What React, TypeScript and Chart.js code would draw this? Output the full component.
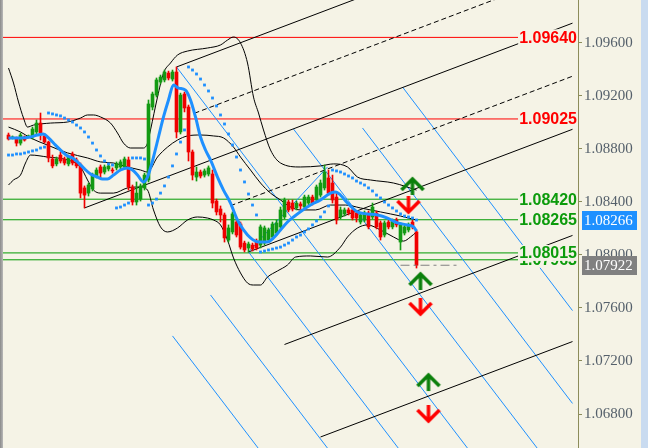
import { useEffect, useRef } from "react";
import { Chart, registerables } from "chart.js";
Chart.register(...registerables);

// ---------- candles (index 0..102) ----------
const opens = [1.08904,1.08882,1.08874,1.08843,1.08889,1.08889,1.08889,1.08927,1.08994,1.08897,1.08851,1.08723,1.08686,1.08753,1.08723,1.08686,1.08761,1.08716,1.08678,1.08505,1.08466,1.08497,1.08595,1.08663,1.08625,1.08648,1.08640,1.08656,1.08663,1.08663,1.08716,1.08512,1.08399,1.08421,1.08505,1.08565,1.09115,1.09205,1.09304,1.09319,1.09371,1.09326,1.09379,1.08927,1.09213,1.09115,1.08776,1.08587,1.08625,1.08602,1.08610,1.08610,1.08406,1.08346,1.08301,1.08112,1.08173,1.08248,1.08233,1.08089,1.08052,1.08074,1.08104,1.08074,1.08089,1.08112,1.08135,1.08165,1.08211,1.08286,1.08399,1.08391,1.08354,1.08384,1.08361,1.08391,1.08436,1.08414,1.08451,1.08505,1.08580,1.08542,1.08436,1.08286,1.08309,1.08339,1.08339,1.08316,1.08248,1.08263,1.08316,1.08286,1.08316,1.08241,1.08150,1.08248,1.08211,1.08263,1.08097,1.08165,1.08188,1.08248,1.08173];
const highs = [1.08919,1.08897,1.08889,1.08919,1.08897,1.08904,1.08964,1.09017,1.09070,1.08912,1.08858,1.08753,1.08738,1.08776,1.08738,1.08753,1.08776,1.08731,1.08693,1.08520,1.08542,1.08617,1.08656,1.08678,1.08678,1.08686,1.08656,1.08701,1.08716,1.08738,1.08738,1.08527,1.08550,1.08535,1.08617,1.09168,1.09228,1.09334,1.09356,1.09394,1.09386,1.09394,1.09417,1.09220,1.09228,1.09130,1.08791,1.08663,1.08640,1.08648,1.08671,1.08640,1.08421,1.08369,1.08316,1.08226,1.08324,1.08263,1.08248,1.08104,1.08097,1.08089,1.08120,1.08226,1.08218,1.08203,1.08248,1.08263,1.08361,1.08429,1.08414,1.08414,1.08406,1.08399,1.08451,1.08451,1.08451,1.08527,1.08565,1.08678,1.08640,1.08602,1.08466,1.08361,1.08354,1.08354,1.08354,1.08331,1.08316,1.08331,1.08331,1.08391,1.08331,1.08256,1.08256,1.08263,1.08271,1.08278,1.08241,1.08226,1.08241,1.08263,1.08188];
const lows = [1.08866,1.08874,1.08821,1.08828,1.08858,1.08882,1.08874,1.08912,1.08866,1.08843,1.08701,1.08656,1.08671,1.08693,1.08678,1.08671,1.08678,1.08656,1.08429,1.08354,1.08444,1.08482,1.08580,1.08580,1.08610,1.08633,1.08617,1.08640,1.08648,1.08656,1.08489,1.08376,1.08376,1.08406,1.08489,1.08550,1.09093,1.09190,1.09289,1.09304,1.09319,1.09311,1.08882,1.08912,1.09078,1.08708,1.08565,1.08557,1.08580,1.08587,1.08595,1.08354,1.08301,1.08248,1.08097,1.08097,1.08158,1.08135,1.08044,1.08022,1.08022,1.08029,1.08037,1.08052,1.08074,1.08097,1.08120,1.08150,1.08196,1.08271,1.08324,1.08331,1.08339,1.08346,1.08346,1.08376,1.08376,1.08399,1.08436,1.08489,1.08451,1.08391,1.08233,1.08271,1.08293,1.08301,1.08263,1.08248,1.08233,1.08248,1.08196,1.08271,1.08196,1.08112,1.08135,1.08196,1.08196,1.08211,1.08037,1.08150,1.08173,1.08196,1.07901];
const closes = [1.08874,1.08889,1.08843,1.08904,1.08866,1.08897,1.08949,1.08994,1.08919,1.08851,1.08731,1.08671,1.08723,1.08708,1.08693,1.08738,1.08693,1.08671,1.08466,1.08451,1.08527,1.08602,1.08640,1.08617,1.08663,1.08671,1.08633,1.08686,1.08701,1.08723,1.08512,1.08399,1.08466,1.08520,1.08602,1.09138,1.09213,1.09319,1.09341,1.09379,1.09334,1.09379,1.08927,1.09205,1.09108,1.08776,1.08602,1.08625,1.08595,1.08633,1.08656,1.08391,1.08324,1.08301,1.08128,1.08203,1.08309,1.08150,1.08059,1.08037,1.08082,1.08044,1.08052,1.08211,1.08203,1.08188,1.08233,1.08241,1.08339,1.08414,1.08339,1.08346,1.08391,1.08369,1.08436,1.08436,1.08391,1.08512,1.08542,1.08625,1.08466,1.08414,1.08263,1.08339,1.08339,1.08316,1.08278,1.08278,1.08301,1.08316,1.08211,1.08361,1.08211,1.08135,1.08241,1.08211,1.08256,1.08226,1.08226,1.08211,1.08226,1.08211,1.07922];

// ---------- parabolic SAR (one dot per candle) ----------
const sar = [1.08753,1.08753,1.08761,1.08761,1.08768,1.08776,1.08784,1.08791,1.08806,1.08813,
  1.09070,1.09063,1.09055,1.09048,1.09032,1.09017,1.09002,1.08979,1.08957,1.08927,1.08889,1.08843,1.08791,1.08746,1.08708,1.08686,1.08678,
  1.08354,1.08361,1.08376,1.08391,
  1.08731,1.08731,1.08731,1.08723,
  1.08376,1.08391,1.08421,1.08466,1.08520,1.08587,1.08671,1.08761,1.08851,1.08942,
  1.09417,1.09394,1.09364,1.09326,1.09281,1.09236,1.09183,1.09123,1.09055,1.08987,1.08912,1.08829,1.08738,1.08640,1.08550,1.08459,1.08376,1.08301,
  1.08022,1.08029,1.08037,1.08044,1.08052,1.08059,1.08074,1.08089,1.08112,1.08135,1.08150,1.08173,1.08196,1.08226,1.08256,1.08286,1.08324,1.08369,
  1.08640,1.08633,1.08625,1.08610,1.08595,1.08580,1.08557,1.08542,1.08527,1.08505,1.08482,1.08451,1.08429,1.08399,1.08376,1.08354,1.08331,1.08309,1.08293,1.08286,1.08278,1.08263];

// ---------- moving average ----------
const maX = [0,3,5.5,7.25,8.75,10,11.75,13.5,14.75,16,17.25,18.75,20.5,22.25,23.5,24.75,26.25,28,29.75,31,32.25,33.75,34.75,35.5,36.25,37.5,38.75,40,41.25,42.5,44.25,45.5,46.75,48,49.25,50.5,52.25,53.75,55.5,57.25,58.75,60.5,62.5,64.75,66.25,68,69.75,71.25,75.5,78,80.5,81.75,83,84.75,87.25,89.75,92.25,94.75,97.25,99.75,101.25,102];
const maY = [1.08882,1.08882,1.08889,1.08904,1.08912,1.08882,1.08828,1.08776,1.08746,1.08731,1.08701,1.08656,1.08610,1.08587,1.08572,1.08572,1.08602,1.08640,1.08656,1.08640,1.08602,1.08550,1.08587,1.08656,1.08738,1.08889,1.09040,1.09168,1.09281,1.09258,1.09243,1.09168,1.09040,1.08889,1.08791,1.08716,1.08587,1.08489,1.08391,1.08263,1.08188,1.08128,1.08097,1.08097,1.08128,1.08188,1.08248,1.08286,1.08376,1.08414,1.08466,1.08474,1.08451,1.08391,1.08324,1.08309,1.08301,1.08278,1.08241,1.08226,1.08211,1.08180];

// ---------- Bollinger bands ----------
const bbUpperX = [0,1.25,2.5,3.75,4.75,6.25,10.5,14.75,18,19.75,21.25,23,25.5,27.25,28.75,30.5,33.75,34.75,35.5,37.25,38.75,40.5,42.25,44.75,49.75,53,54.75,56.25,58,59.75,61.25,62.5,63.75,65.5,68,73,78,81.25,84.75,87.25,90.5,96.25,102];
const bbUpperY = [1.09409,1.09296,1.09153,1.09032,1.08964,1.08979,1.08994,1.09002,1.09032,1.09055,1.09055,1.09040,1.08994,1.08919,1.08843,1.08806,1.08806,1.08843,1.08942,1.09190,1.09371,1.09447,1.09507,1.09537,1.09560,1.09583,1.09620,1.09643,1.09598,1.09447,1.09190,1.09070,1.08942,1.08791,1.08693,1.08663,1.08671,1.08686,1.08663,1.08587,1.08565,1.08542,1.08489];
const bbMiddleX = [0,3,5.5,9.75,14.75,19.75,23,26.25,29.75,33,34.75,37.25,39.75,42.25,44.75,48,51.25,53.75,56.25,58,60.5,63,65.5,68,70.5,73,76.75,80.5,84.25,88,93,98,102];
const bbMiddleY = [1.08964,1.08927,1.08882,1.08828,1.08769,1.08731,1.08701,1.08693,1.08663,1.08640,1.08625,1.08738,1.08813,1.08866,1.08897,1.08904,1.08897,1.08882,1.08813,1.08738,1.08640,1.08542,1.08466,1.08414,1.08361,1.08339,1.08339,1.08376,1.08376,1.08354,1.08324,1.08293,1.08263];
const bbLowerX = [0,1.25,3,4.25,5.5,9.75,14.75,18,19.75,21.25,23,26.25,29.75,33,34.75,36.25,38,39.75,42.25,44.75,47.25,49.75,51.25,53,54.75,56.25,58,59.75,61.25,63,64.75,67.25,69.75,71.75,75.5,79.75,83,84.75,87.25,89.75,93,96.25,98.75,100.5,102];
const bbLowerY = [1.08527,1.08565,1.08602,1.08693,1.08753,1.08738,1.08716,1.08663,1.08565,1.08489,1.08466,1.08466,1.08505,1.08512,1.08489,1.08339,1.08211,1.08173,1.08203,1.08263,1.08286,1.08278,1.08263,1.08226,1.08112,1.07977,1.07864,1.07788,1.07773,1.07773,1.07833,1.07879,1.07924,1.07984,1.07992,1.07984,1.08059,1.08135,1.08203,1.08226,1.08188,1.08135,1.08104,1.08135,1.08173];

// ---------- Andrews pitchfork pivots (A, B, C) ----------
const pivotX = [19, 42, 60];
const pivotY = [1.08354, 1.09417, 1.08022];
const pitchforkEnd = 141;

// ---------- blue parallel lines ----------
const fanStartX = [98.5, 88.5, 71.25, 42, 60, 50.5, 41];
const fanStartY = [1.09266, 1.08957, 1.08949, 1.09417, 1.08022, 1.07698, 1.07389];
const fanEndX = [141, 141, 134.45, 116.9, 99.3, 82, 64.6];
const fanEndY = [1.07580, 1.06880, 1.06453, 1.06458, 1.06470, 1.06454, 1.06457];
const trendX = [60, 79.75];
const trendY = [1.08022, 1.08663];

// ---------- levels ----------
const redLevels = [1.0964, 1.09025];
const greenLevels = [1.0842, 1.08265, 1.08015, 1.07963];
const bidPrice = 1.07922;
const bidLineX = [98, 112];
const maPrice = 1.08266;

// ---------- arrows ----------
const upArrowX = [101, 103, 105];
const upArrowY = [1.08512, 1.07796, 1.07034];
const downArrowX = [100, 103, 105];
const downArrowY = [1.08384, 1.07615, 1.06808];

// ---------- axis ----------
const yTicks = [1.096, 1.092, 1.088, 1.084, 1.08, 1.076, 1.072, 1.068];
const X_MIN = -1.375, X_MAX = 142.375;
const Y_MIN = 1.06544, Y_MAX = 1.09922;
const LEVEL_END = 127.4;

const BG = "#f5f3e6";
const GREEN = "#139a13";
const RED = "#f00000";
const BLUE = "#1e90ff";
const LEVEL_GREEN = "#0c9b0c";
const AXIS = "#8c8c5a";

function arrowImage(color: string, up: boolean) {
  const c = document.createElement("canvas");
  c.width = 26; c.height = 22;
  const g = c.getContext("2d")!;
  g.strokeStyle = color; g.lineWidth = 3.5; g.lineCap = "butt"; g.lineJoin = "miter";
  if (!up) { g.translate(0, 22); g.scale(1, -1); }
  g.beginPath(); g.moveTo(2, 14); g.lineTo(13, 3); g.lineTo(24, 14); g.stroke();
  g.beginPath(); g.moveTo(13, 4); g.lineTo(13, 19); g.stroke();
  return c;
}

const pts = (xs: number[], ys: number[]) => xs.map((x, i) => ({ x, y: ys[i] }));

export default function App() {
  const ref = useRef<HTMLCanvasElement | null>(null);
  useEffect(() => {
    document.body.style.margin = "0";
    const canvas = ref.current!;
    const idx = opens.map((_, i) => i);
    const colors = opens.map((o, i) => (closes[i] >= o ? GREEN : RED));

    const line = (data: any[], color: string, width: number, order: number, extra: any = {}) => ({
      type: "line", data, borderColor: color, borderWidth: width, pointRadius: 0, order, tension: 0, ...extra,
    });

    const A = { x: pivotX[0], y: pivotY[0] };
    const B = { x: pivotX[1], y: pivotY[1] };
    const C = { x: pivotX[2], y: pivotY[2] };
    const M = { x: (B.x + C.x) / 2, y: (B.y + C.y) / 2 };
    const k = (M.y - A.y) / (M.x - A.x);
    const ray = (P: { x: number; y: number }) => [P, { x: pitchforkEnd, y: P.y + k * (pitchforkEnd - P.x) }];
    const mid = (P: any, Q: any) => ({ x: (P.x + Q.x) / 2, y: (P.y + Q.y) / 2 });
    const W1 = { x: C.x + 0.5 * (C.x - B.x), y: C.y + 0.5 * (C.y - B.y) };
    const W2 = { x: C.x + (C.x - B.x), y: C.y + (C.y - B.y) };

    const datasets: any[] = [];
    redLevels.forEach((v) => datasets.push(line([{ x: X_MIN, y: v }, { x: LEVEL_END, y: v }], "#ff0000", 1, 20)));
    greenLevels.forEach((v) => datasets.push(line([{ x: X_MIN, y: v }, { x: LEVEL_END, y: v }], "#009a00", 1, 20)));
    fanStartX.forEach((sx, i) =>
      datasets.push(line([{ x: sx, y: fanStartY[i] }, { x: fanEndX[i], y: fanEndY[i] }], BLUE, 1, 18)));
    datasets.push(line(pts(trendX, trendY), BLUE, 1, 18));
    [A, B, C, W1, W2].forEach((P) => datasets.push(line(ray(P), "#000", 1, 17)));
    [mid(B, M), mid(M, C)].forEach((P) => datasets.push(line(ray(P), "#000", 1, 17, { borderDash: [5, 3] })));
    datasets.push(line(pts(bbUpperX, bbUpperY), "#000", 1, 16, { cubicInterpolationMode: "monotone" }));
    datasets.push(line(pts(bbMiddleX, bbMiddleY), "#000", 1, 16, { cubicInterpolationMode: "monotone" }));
    datasets.push(line(pts(bbLowerX, bbLowerY), "#000", 1, 16, { cubicInterpolationMode: "monotone" }));
    datasets.push({
      type: "bar", data: idx.map((i) => ({ x: i, y: [lows[i], highs[i]] })), backgroundColor: colors,
      barThickness: 1, grouped: false, borderWidth: 0, order: 15,
    });
    datasets.push({
      type: "bar", data: idx.map((i) => ({ x: i, y: [opens[i], closes[i]] })), backgroundColor: colors,
      barThickness: 3, minBarLength: 1, grouped: false, borderWidth: 0, order: 14,
    });
    datasets.push(line(pts(maX, maY), BLUE, 3, 13, { cubicInterpolationMode: "monotone" }));
    datasets.push({
      type: "line", data: idx.map((i) => ({ x: i, y: sar[i] })), showLine: false, pointStyle: "rect",
      pointRadius: 2, pointBackgroundColor: BLUE, pointBorderWidth: 0, order: 12,
    });
    datasets.push(line(bidLineX.map((x) => ({ x, y: bidPrice })), "#808080", 1, 11, { borderDash: [9, 4, 3, 4] }));
    datasets.push({
      type: "line", data: pts(upArrowX, upArrowY), showLine: false, pointStyle: arrowImage("#0b7f0b", true),
      pointRadius: 10, order: 10,
    });
    datasets.push({
      type: "line", data: pts(downArrowX, downArrowY), showLine: false, pointStyle: arrowImage("#ff0000", false),
      pointRadius: 10, order: 10,
    });

    const decor = {
      id: "decor",
      beforeDraw(chart: any) {
        const c = chart.ctx;
        c.save(); c.fillStyle = BG; c.fillRect(0, 0, chart.width, chart.height); c.restore();
      },
      afterDatasetsDraw(chart: any) {
        const c = chart.ctx, ys = chart.scales.y, area = chart.chartArea;
        const labels = [
          ...redLevels.map((v) => ({ v, col: "#ff0000" })),
          ...greenLevels.map((v) => ({ v, col: LEVEL_GREEN })),
        ].sort((a, b) => a.v - b.v);
        c.save();
        c.font = 'bold 16px "Liberation Sans", Arial, sans-serif';
        c.textAlign = "right"; c.textBaseline = "middle";
        labels.forEach(({ v, col }) => {
          const py = ys.getPixelForValue(v);
          const t = v.toFixed(5);
          const w = c.measureText(t).width;
          c.fillStyle = BG;
          c.fillRect(area.right - 2 - w, py - 8, w + 2, 16);
          c.fillStyle = col;
          c.fillText(t, area.right - 1, py + 1);
        });
        c.restore();
      },
      afterDraw(chart: any) {
        const c = chart.ctx, ys = chart.scales.y, area = chart.chartArea;
        const boxes = [
          { v: maPrice, bg: BLUE },
          { v: bidPrice, bg: "#808080" },
        ];
        c.save();
        c.font = '15px "Liberation Serif", "Times New Roman", serif';
        c.textAlign = "left"; c.textBaseline = "middle";
        boxes.forEach(({ v, bg }) => {
          const py = ys.getPixelForValue(v);
          c.fillStyle = bg;
          c.fillRect(area.right + 4, Math.round(py) - 9, 55, 19);
          c.fillStyle = "#ffffff";
          c.fillText(v.toFixed(5), area.right + 6, py + 1);
        });
        c.restore();
      },
    };

    const chart = new Chart(canvas, {
      type: "bar",
      data: { datasets },
      options: {
        animation: false,
        responsive: false,
        devicePixelRatio: 1,
        events: [],
        layout: { autoPadding: false, padding: 0 },
        plugins: { legend: { display: false }, tooltip: { enabled: false } },
        scales: {
          x: { type: "linear", min: X_MIN, max: X_MAX, display: false, offset: false },
          y: {
            type: "linear", position: "right", min: Y_MIN, max: Y_MAX,
            afterBuildTicks: (s: any) => { s.ticks = yTicks.map((value) => ({ value })); },
            afterFit: (s: any) => { s.width = 63; s.paddingTop = 0; s.paddingBottom = 0; },
            border: { display: true, color: AXIS, width: 1 },
            grid: { drawOnChartArea: false, drawTicks: true, tickLength: 4, color: AXIS },
            ticks: {
              padding: 2, color: "#55606b",
              font: { family: '"Liberation Serif", "Times New Roman", serif', size: 15 },
              callback: (v: any) => Number(v).toFixed(5),
            },
          },
        },
      } as any,
      plugins: [decor],
    } as any);
    return () => chart.destroy();
  }, []);

  return (
    <div style={{ position: "relative", width: 648, height: 448, background: "#c9dbf0", display: "flex" }}>
      <div style={{ width: 3, height: 448, background: "linear-gradient(to right, #8a8a8a, #b8b8b8)" }} />
      <canvas ref={ref} width={638} height={448} style={{ display: "block", width: 638, height: 448 }} />
    </div>
  );
}
